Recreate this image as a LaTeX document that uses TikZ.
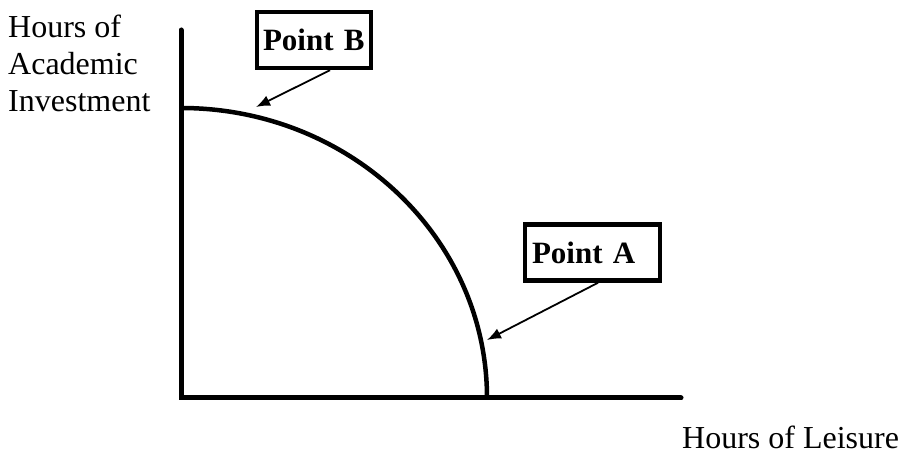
\documentclass[tikz,border=0pt]{standalone}
\usepackage{fontspec}
\setmainfont{Liberation Serif}
\usetikzlibrary{arrows.meta}
\tikzset{
  axislabel/.style={font=\fontsize{32}{37}\selectfont, inner sep=0pt},
  ptbox/.style={draw, line width=4.5pt, font=\bfseries\fontsize{31}{37}\selectfont,
    align=left, inner ysep=0pt, minimum height=56pt},
  ptarrow/.style={line width=1.8pt, -{Latex[length=14pt,width=11pt]}}
}
\begin{document}
\begin{tikzpicture}[x=1pt,y=1pt]
			\useasboundingbox (0,0) rectangle (901,457);
			\coordinate (origin) at (181,59);
			\coordinate (ytop) at (181,427);
			\coordinate (xend) at (681,59);
			\draw[line width=5pt, line cap=round] (ytop) -- (origin) -- (xend);
			\draw[line width=4.5pt] (181,349) arc[start angle=90, end angle=0, x radius=306, y radius=290];
			\node[ptbox, text width=102pt, inner xsep=6pt] (pointB) at (314,417) {Point B};
			\node[ptbox, text width=121pt, inner xsep=7pt] (pointA) at (592.5,204.5) {Point A};
			\coordinate (tipB) at (256,350);
			\coordinate (tipA) at (487,117);
			\draw[ptarrow] ([xshift=16pt]pointB.south) -- (tipB);
			\draw[ptarrow] ([xshift=5.5pt]pointA.south) -- (tipA);
			\node[axislabel, align=left, anchor=base west] (ylabel) at (8,345) {Hours of\\Academic\\Investment};
			\node[axislabel, anchor=base west] (xlabel) at (682,8) {Hours of Leisure};
		\end{tikzpicture}
\end{document}
